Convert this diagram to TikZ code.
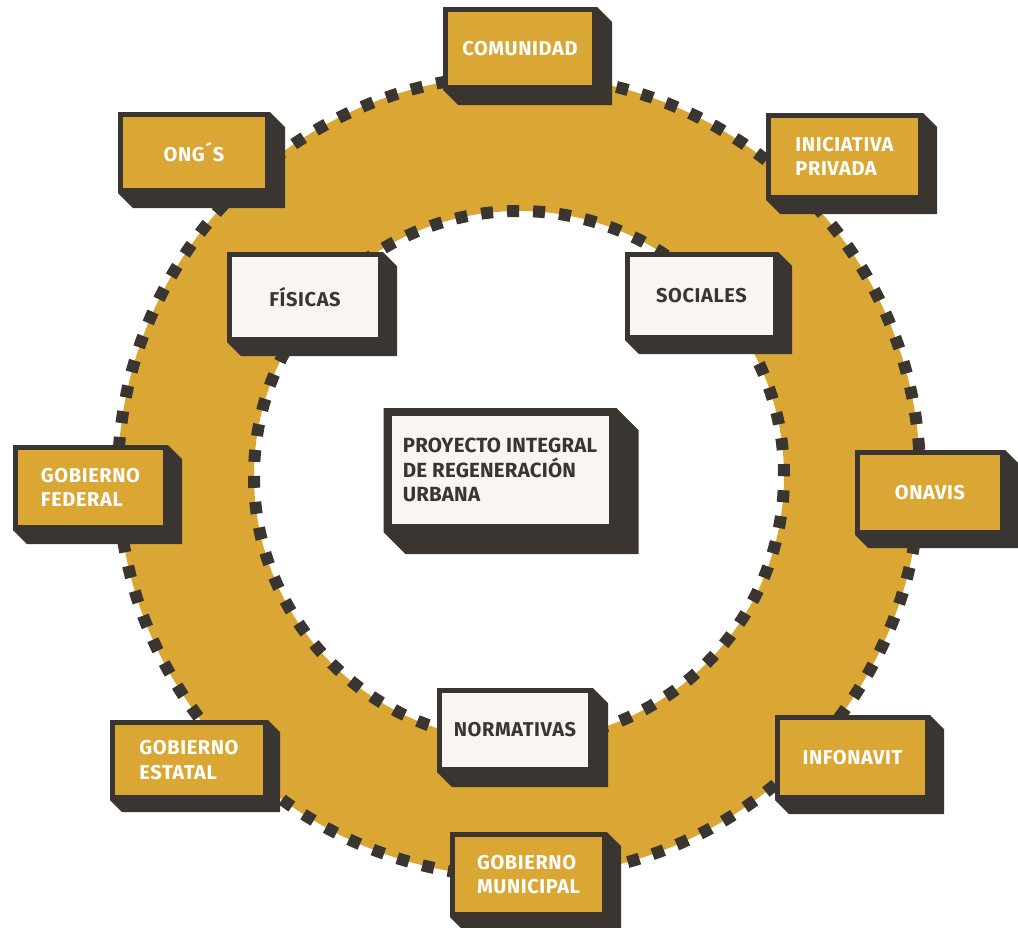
\documentclass[tikz,border=0pt]{standalone}
\usepackage{fontspec}
\setmainfont{Fira Sans}
\newfontfamily\labelfont[LetterSpace=3]{Fira Sans}
\newfontfamily\titlefont[LetterSpace=1]{Fira Sans}
\usetikzlibrary{backgrounds}
\definecolor{gold}{RGB}{219,167,52}
\definecolor{ink}{RGB}{58,53,49}
\definecolor{paper}{RGB}{248,245,243}
\tikzset{
  box/.style={draw=ink, line width=5pt, inner sep=0pt, align=left,
    font=\labelfont\bfseries\fontsize{20}{24.5}\selectfont},
  goldbox/.style={box, fill=gold, text=white},
  whitebox/.style={box, fill=paper, text=ink},
  ringdash/.style={draw=ink, line width=12pt},
}
\newcommand\boxshade[2]{%
  \fill[ink] (#1.north west) -- (#1.north east) -- ++(#2,#2)
    -- ([shift={(#2,#2)}]#1.south east) -- ([shift={(#2,#2)}]#1.south west)
    -- (#1.south west) -- cycle;}
\begin{document}
\begin{tikzpicture}[x=1pt,y=-1pt]
\useasboundingbox (0,0) rectangle (1018,927);
\coordinate (C) at (519,476);
% outer boxes
\node[goldbox, minimum width=149pt, minimum height=78pt] (com) at (520,48.5) {COMUNIDAD};
\node[goldbox, minimum width=147pt, minimum height=76pt] (ong) at (194,152.5) {ONG´S};
\node[goldbox, minimum width=152pt, minimum height=82pt] (ini) at (844.5,156.5) {INICIATIVA\\PRIVADA};
\node[goldbox, minimum width=150pt, minimum height=80pt] (fed) at (90.5,487.5) {GOBIERNO\\FEDERAL};
\node[goldbox, minimum width=145pt, minimum height=80pt] (ona) at (930,492.5) {ONAVIS};
\node[goldbox, minimum width=153pt, minimum height=75pt] (est) at (189,760) {GOBIERNO\\ESTATAL};
\node[goldbox, minimum width=152pt, minimum height=80pt] (mun) at (528.5,874.5) {GOBIERNO\\MUNICIPAL};
\node[goldbox, minimum width=150pt, minimum height=80pt] (inf) at (852.5,757.5) {INFONAVIT};
% inner boxes
\node[whitebox, minimum width=151pt, minimum height=85pt] (fis) at (305,297) {FÍSICAS};
\node[whitebox, minimum width=148pt, minimum height=83pt] (soc) at (701.5,296) {SOCIALES};
\node[whitebox, minimum width=151pt, minimum height=79pt] (nor) at (515,730) {NORMATIVAS};
\node[whitebox, line width=8pt, minimum width=225pt, minimum height=116pt,
  font=\titlefont\bfseries\fontsize{20.5}{24.5}\selectfont] (pro) at (500,470)
  {PROYECTO INTEGRAL\\DE REGENERACIÓN\\URBANA};
\begin{pgfonlayer}{background}
  \fill[gold, even odd rule] (C) circle[radius=401pt] (C) circle[radius=265pt];
  \draw[ringdash, dash pattern=on 12pt off 13.975pt] (C) circle[radius=401pt];
  \draw[ringdash, dash pattern=on 12pt off 14.016pt] (C) circle[radius=265pt];
  \boxshade{com}{15}
  \boxshade{ong}{15}
  \boxshade{ini}{14}
  \boxshade{fed}{14}
  \boxshade{ona}{13}
  \boxshade{est}{12}
  \boxshade{mun}{14}
  \boxshade{inf}{14}
  \boxshade{fis}{14}
  \boxshade{soc}{14}
  \boxshade{nor}{15}
  \boxshade{pro}{22}
\end{pgfonlayer}
\end{tikzpicture}
\end{document}
